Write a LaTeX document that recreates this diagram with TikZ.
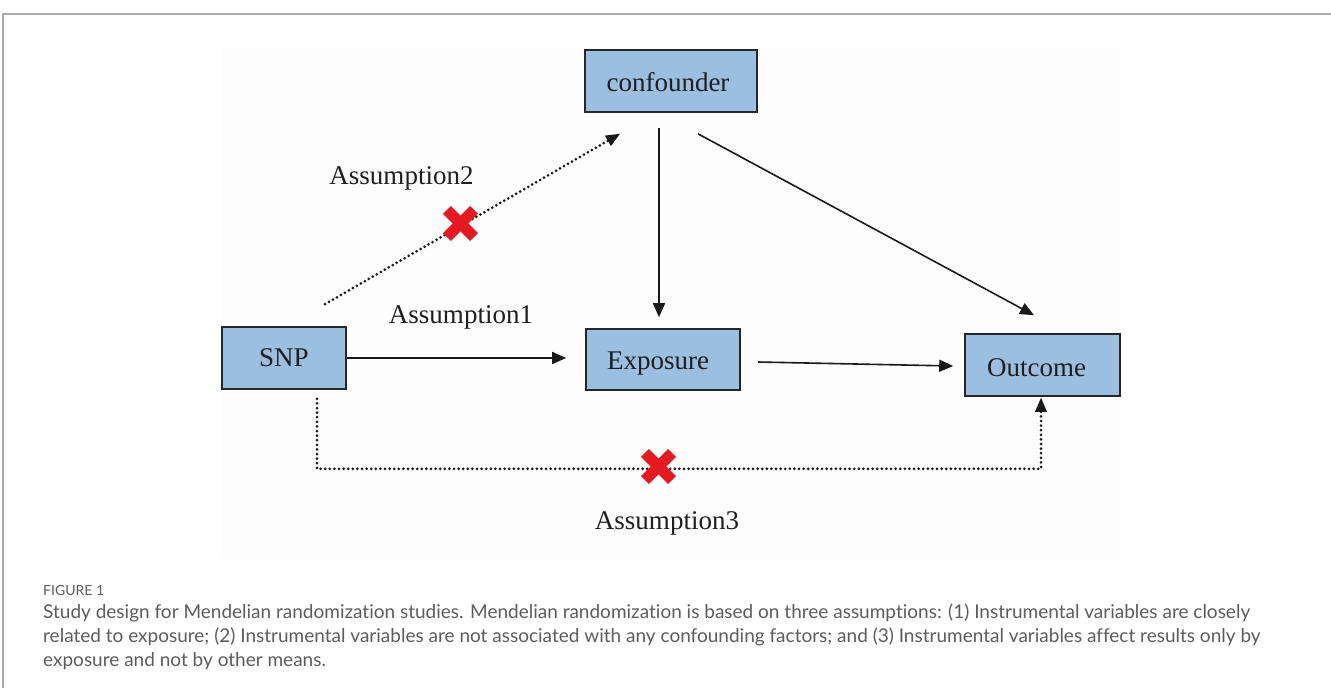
\documentclass[tikz,border=0pt]{standalone}
\usepackage{fontspec}
\setmainfont{Liberation Serif}
\newfontfamily\capfont[Ligatures={NoCommon,NoDiscretionary,NoRare}]{Lato}
\usetikzlibrary{arrows.meta}
\definecolor{boxblue}{HTML}{9BBFE0}
\definecolor{xred}{HTML}{E5191F}
\definecolor{capgray}{HTML}{5C5C5C}
\definecolor{framegray}{HTML}{A8A8A8}
\definecolor{bgfaint}{HTML}{FDFDFD}
\begin{document}
\begin{tikzpicture}[x=1pt,y=-1pt,
  box/.style={draw=black!85, line width=1.6pt, fill=boxblue, minimum height=62pt,
    inner sep=0pt, font=\fontsize{27}{31}\selectfont, text=black!88},
  arr/.style={line width=1.6pt, draw=black!90, -{Triangle[length=14pt,width=12pt]}},
  dotarr/.style={line width=3pt, draw=black!90, dash pattern=on 0pt off 4.6pt, line cap=round,
    -{Triangle[length=14pt,width=12pt,round=false,line width=0pt]}},
  lab/.style={font=\fontsize{27}{31}\selectfont, text=black!88, anchor=base, inner sep=0pt},
  capline/.style={font=\capfont\fontsize{19}{23}\selectfont, text=capgray, anchor=base west, inner sep=0pt},
  xbar/.style={draw=xred, line width=11pt}]
\useasboundingbox (0,0) rectangle (1331,688);
\fill[bgfaint] (221,48) rectangle (1120,558);
\draw[framegray, line width=1.5pt] (3,688) -- (3,14) -- (1331,14);

% boxes
\node[box, minimum width=172pt, text height=20pt, text depth=0pt] (conf) at (671,81) {confounder\kern6pt};
\node[box, minimum width=124pt] (snp) at (284,358) {SNP};
\node[box, minimum width=154pt, minimum height=61pt, text height=26pt, text depth=6pt] (exp) at (663,359.5) {Exposure\kern10pt};
\node[box, minimum width=155pt, text height=22pt, text depth=0pt] (out) at (1042.5,365) {Outcome\kern12pt};

% solid arrows
\draw[arr, shorten >=19pt] (snp.east) -- (snp.east -| exp.west);
\draw[arr] ([xshift=17pt,yshift=-2.5pt]exp.east) -- ([xshift=-11pt,yshift=-1pt]out.west);
\draw[arr] ([xshift=-12pt,yshift=-15pt]conf.south) -- ([xshift=-4pt,yshift=11pt]exp.north);
\draw[arr] ([xshift=27pt,yshift=-21pt]conf.south) -- ([xshift=-8.5pt,yshift=18pt]out.north);

% dotted arrows
\draw[dotarr] ([xshift=41pt,yshift=22pt]snp.north) -- ([xshift=-51pt,yshift=-21pt]conf.south);
\draw[dotarr] ([xshift=33pt,yshift=-9pt]snp.south) -- ++(0,70) -| ([xshift=-1.5pt,yshift=-1pt]out.south);

% labels
\node[lab] (a2) at (401.5,184) {Assumption2};
\node[lab] (a1) at (461,323) {Assumption1};
\node[lab] (a3) at (667,529) {Assumption3};

% red crosses
\coordinate (xa) at (460.5,223.5);
\coordinate (xb) at (658.5,466.5);
\foreach \c in {xa,xb}{
  \draw[xbar] ([shift={(-13.6,-13.6)}]\c) -- ([shift={(13.6,13.6)}]\c);
  \draw[xbar] ([shift={(-13.6,13.6)}]\c) -- ([shift={(13.6,-13.6)}]\c);
}

% caption
\node[capline, font=\capfont\fontsize{14}{17}\selectfont] (fig) at (43,595) {FIGURE 1};
\node[capline] (c1) at (43,618) {Study design for Mendelian randomization studies. Mendelian randomization is based on three assumptions: (1) Instrumental variables are closely};
\node[capline] (c2) at (43,642) {related to exposure; (2) Instrumental variables are not associated with any confounding factors; and (3) Instrumental variables affect results only by};
\node[capline] (c3) at (43,666) {exposure and not by other means.};
\end{tikzpicture}
\end{document}
